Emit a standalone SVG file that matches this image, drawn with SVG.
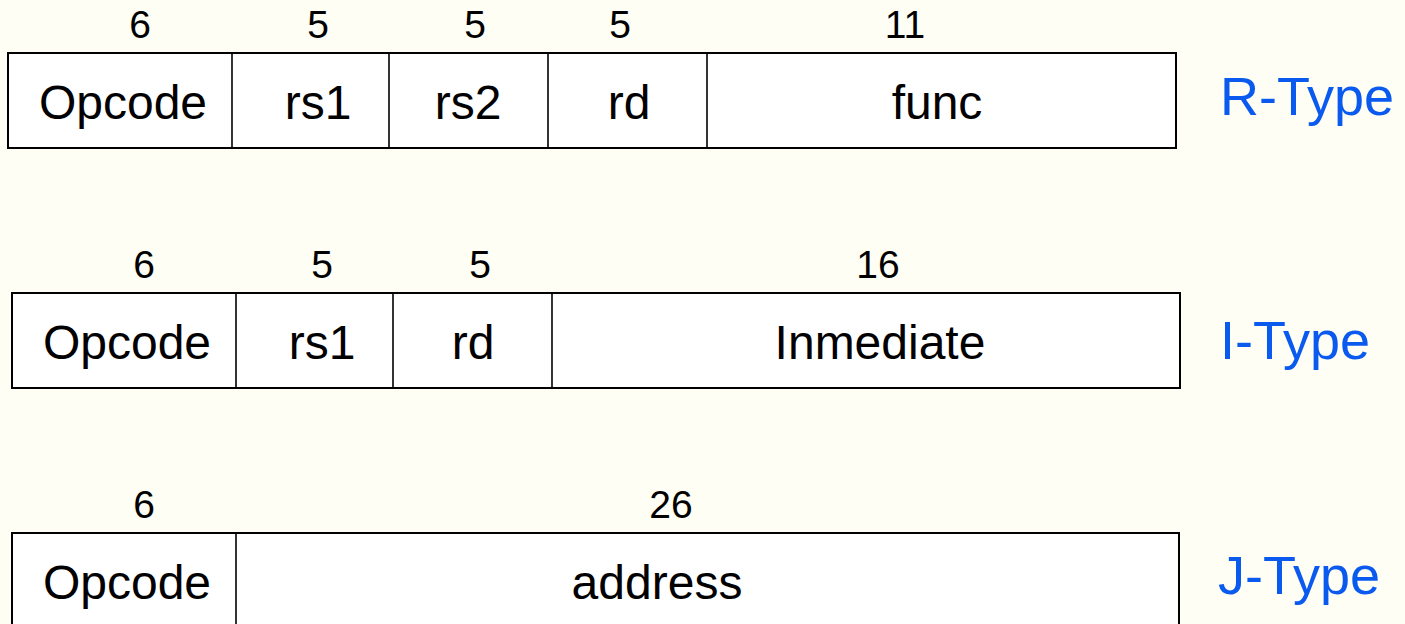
<svg xmlns="http://www.w3.org/2000/svg" width="1405" height="624" viewBox="0 0 1405 624">
  <style>
    .cell { fill: #ffffff; stroke: #000000; stroke-width: 2; }
    .sep { stroke: #000000; stroke-width: 1.6; }
    .lbl { font-family: "Liberation Sans", Arial, sans-serif; font-size: 48px; fill: #000000; text-anchor: middle; }
    .num { font-family: "Liberation Sans", Arial, sans-serif; font-size: 39px; fill: #000000; text-anchor: middle; }
    .type { font-family: "Liberation Sans", Arial, sans-serif; font-size: 54px; fill: #0a5af0; }
  </style>
  <rect width="1405" height="624" fill="#fefef5"/>

  <!-- R-Type instruction format -->
  <g id="r-type">
    <rect class="cell" x="8" y="53" width="1168" height="95"/>
    <line class="sep" x1="232" y1="53" x2="232" y2="148"/>
    <line class="sep" x1="389" y1="53" x2="389" y2="148"/>
    <line class="sep" x1="548" y1="53" x2="548" y2="148"/>
    <line class="sep" x1="707" y1="53" x2="707" y2="148"/>
    <text class="num" x="140" y="38">6</text>
    <text class="num" x="318" y="38">5</text>
    <text class="num" x="475" y="38">5</text>
    <text class="num" x="620" y="38">5</text>
    <text class="num" x="905" y="38">11</text>
    <text class="lbl" x="123" y="119">Opcode</text>
    <text class="lbl" x="318" y="119">rs1</text>
    <text class="lbl" x="468" y="119">rs2</text>
    <text class="lbl" x="629" y="119">rd</text>
    <text class="lbl" x="937" y="119">func</text>
    <text class="type" x="1220" y="115">R-Type</text>
  </g>

  <!-- I-Type instruction format -->
  <g id="i-type">
    <rect class="cell" x="12" y="293" width="1168" height="95"/>
    <line class="sep" x1="236" y1="293" x2="236" y2="388"/>
    <line class="sep" x1="393" y1="293" x2="393" y2="388"/>
    <line class="sep" x1="552" y1="293" x2="552" y2="388"/>
    <text class="num" x="144" y="278">6</text>
    <text class="num" x="322" y="278">5</text>
    <text class="num" x="480" y="278">5</text>
    <text class="num" x="878" y="278">16</text>
    <text class="lbl" x="127" y="359">Opcode</text>
    <text class="lbl" x="322" y="359">rs1</text>
    <text class="lbl" x="473" y="359">rd</text>
    <text class="lbl" x="880" y="359">Inmediate</text>
    <text class="type" x="1220" y="359">I-Type</text>
  </g>

  <!-- J-Type instruction format -->
  <g id="j-type">
    <rect class="cell" x="12" y="533" width="1167" height="120"/>
    <line class="sep" x1="236" y1="533" x2="236" y2="624"/>
    <text class="num" x="144" y="518">6</text>
    <text class="num" x="671" y="518">26</text>
    <text class="lbl" x="127" y="599">Opcode</text>
    <text class="lbl" x="657" y="599">address</text>
    <text class="type" x="1218" y="594">J-Type</text>
  </g>

  <g id="connectors"></g>
</svg>
